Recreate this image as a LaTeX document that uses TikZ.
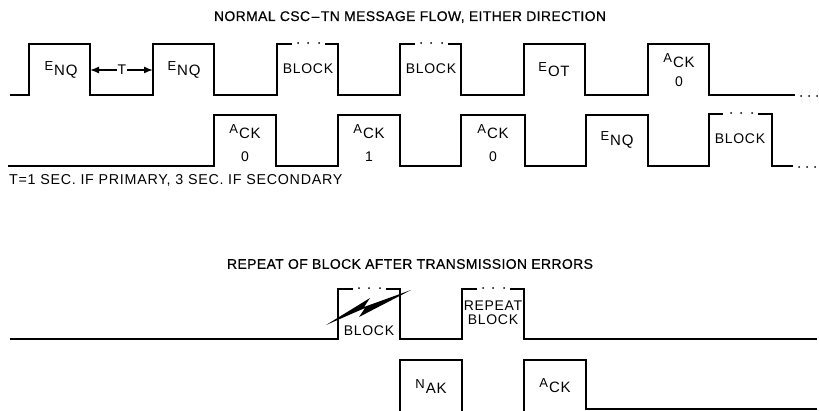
\documentclass[tikz,border=0pt]{standalone}
\usepackage{fontspec}
\setmainfont{Liberation Sans}
\newfontfamily\widefont[LetterSpace=5]{Liberation Sans}
\newfontfamily\titlefont[LetterSpace=2.5,FakeBold=0.5]{Liberation Sans}
\usetikzlibrary{arrows.meta}
\newcommand\lowsub[2]{{\fontsize{13}{13}\selectfont #1}\kern1pt\raisebox{-5pt}{\fontsize{15}{15}\selectfont #2}}
\begin{document}
\begin{tikzpicture}[x=1pt,y=-1pt,
  wave/.style={line width=1.7pt, line join=miter},
  lbl/.style={font=\widefont\fontsize{14}{14}\selectfont, inner sep=0pt},
  ttl/.style={font=\titlefont\fontsize{14}{14}\selectfont, inner sep=0pt},
  dotm/.style={fill=black},
  tarrow/.style={line width=1.4pt, -{Latex[length=9pt,width=7pt]}}]
\useasboundingbox (0,0) rectangle (819,410);

% titles
\node[ttl] (title1) at (410,17) {NORMAL CSC\kern1.5pt{\fontspec[FakeBold=0.5]{Liberation Sans}–}\kern1.5pt TN MESSAGE FLOW, EITHER DIRECTION};
\node[ttl] (title2) at (410,264) {REPEAT OF BLOCK AFTER TRANSMISSION ERRORS};
\node[lbl, font=\widefont\fontsize{14.3}{14.3}\selectfont, anchor=west] (note) at (9,180) {T=1 SEC. IF PRIMARY, 3 SEC. IF SECONDARY};

% row 1
\draw[wave] (10,95) -- (29,95) -- (29,44) -- (90,44) -- (90,95) -- (153,95) -- (153,44) -- (214,44) -- (214,95)
  -- (277,95) -- (277,44) -- (292,44) (325,44) -- (338,44) -- (338,95) -- (400,95) -- (400,44) -- (415,44)
  (448,44) -- (461,44) -- (461,95) -- (524,95) -- (524,44) -- (585,44) -- (585,95) -- (648,95) -- (648,44)
  -- (709,44) -- (709,95) -- (795,95);
\foreach \x in {298,308,319,421,431,442} \fill[dotm] (\x,43) circle (1pt);
\foreach \x in {801,809,817} \fill[dotm] (\x,96) circle (1pt);

% row 2
\draw[wave] (8,166) -- (214,166) -- (214,115) -- (276,115) -- (276,166) -- (338,166) -- (338,115) -- (400,115)
  -- (400,166) -- (461,166) -- (461,115) -- (525,115) -- (525,166) -- (586,166) -- (586,115) -- (648,115)
  -- (648,166) -- (709,166) -- (709,114) -- (723,114) (758,114) -- (772,114) -- (772,166) -- (793,166);
\foreach \x in {731,741,752} \fill[dotm] (\x,113) circle (1pt);
\foreach \x in {799,807,815} \fill[dotm] (\x,167) circle (1pt);

% row 1 labels
\node[lbl] (enq1) at (61,70) {\lowsub{E}{NQ}};
\node[lbl] (T) at (122,70) {T};
\coordinate (tl) at (90,70);
\coordinate (tr) at (153,70);
\draw[tarrow] (T.west) ++(-1,0) -- (tl);
\draw[tarrow] (T.east) ++(1,0) -- (tr);
\node[lbl] (enq2) at (184,70) {\lowsub{E}{NQ}};
\node[lbl] (blk1) at (308,69) {BLOCK};
\node[lbl] (blk2) at (431,69) {BLOCK};
\node[lbl] (eot) at (554,70) {\lowsub{E}{OT}};
\node[lbl] (ack1) at (679,61) {\lowsub{A}{CK}};
\node[lbl] (ack1n) at (679,82) {0};

% row 2 labels
\node[lbl] (ack2) at (245,132) {\lowsub{A}{CK}};
\node[lbl] (ack2n) at (245,157) {0};
\node[lbl] (ack3) at (369,132) {\lowsub{A}{CK}};
\node[lbl] (ack3n) at (369,157) {1};
\node[lbl] (ack4) at (493,132) {\lowsub{A}{CK}};
\node[lbl] (ack4n) at (493,157) {0};
\node[lbl] (enq3) at (617,140) {\lowsub{E}{NQ}};
\node[lbl] (blk3) at (740,139) {BLOCK};

% row 3
\draw[wave] (10,339) -- (338,339) -- (338,289) -- (353,289) (386,289) -- (400,289) -- (400,339) -- (462,339)
  -- (462,289) -- (477,289) (510,289) -- (524,289) -- (524,339) -- (817,339);
\foreach \x in {359,369,380,483,493,504} \fill[dotm] (\x,288) circle (1pt);
\node[lbl] (blk4) at (369,331) {BLOCK};
\node[lbl] (rep) at (493,306) {REPEAT};
\node[lbl] (rblk) at (493,320) {BLOCK};
% lightning bolt
\fill (326,325) -- (370,298) -- (364,307) -- (411,290) -- (359,317) -- (365,308) -- cycle;

% row 4
\draw[wave] (400,411) -- (400,360) -- (462,360) -- (462,411);
\draw[wave] (524,411) -- (524,360) -- (586,360) -- (586,409) -- (817,409);
\node[lbl] (nak) at (431,387) {\lowsub{N}{AK}};
\node[lbl] (ack5) at (555,386) {\lowsub{A}{CK}};
\end{tikzpicture}
\end{document}
